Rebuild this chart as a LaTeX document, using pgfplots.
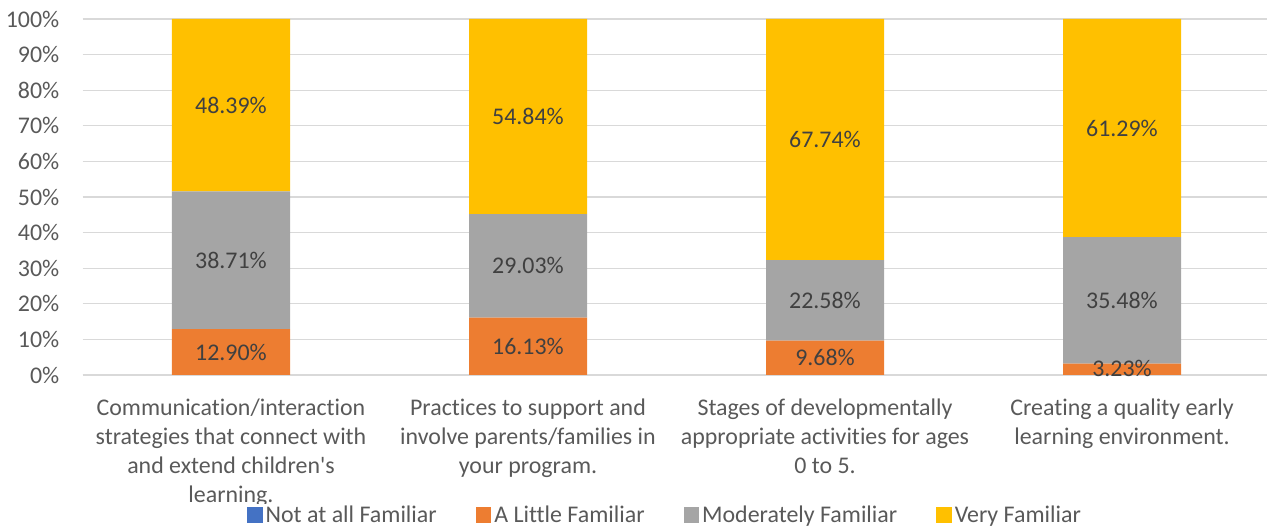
\documentclass[border=0pt]{standalone}
\usepackage{pgfplots}
\usepackage{pgfplotstable}
\pgfplotsset{compat=1.18}
\usepackage{fontspec}
\setmainfont{Carlito}[Ligatures={TeXOff,NoCommon}]

\definecolor{cBlue}{HTML}{4472C4}
\definecolor{cOrange}{HTML}{ED7D31}
\definecolor{cGray}{HTML}{A5A5A5}
\definecolor{cGold}{HTML}{FFC000}
\definecolor{txt}{HTML}{595959}
\definecolor{lbl}{HTML}{404040}
\definecolor{grd}{HTML}{D9D9D9}

% share of respondents (percent) per topic
\pgfplotstableread{
x notat little moderately very
0 0 12.90 38.71 48.39
1 0 16.13 29.03 54.84
2 0 9.68 22.58 67.74
3 0 3.23 35.48 61.29
}\famdata

% data labels, placed at the middle of each segment
\pgfplotstableread{
x y label
0 6.45 12.90
0 32.255 38.71
0 75.805 48.39
1 8.065 16.13
1 30.645 29.03
1 72.58 54.84
2 4.84 9.68
2 20.97 22.58
2 66.13 67.74
3 1.9 3.23
3 20.97 35.48
3 69.355 61.29
}\famlabels

\begin{document}
\begin{tikzpicture}
\path[use as bounding box] (0,0) rectangle (1267bp,527bp);
\pgfplotsset{
  famaxis/.style={
    scale only axis,
    width=1188bp, height=356bp,
    at={(82.5bp,152bp)}, anchor=south west,
    xmin=-0.5, xmax=3.5,
    ymin=0, ymax=100,
  }
}
\begin{axis}[
  famaxis,
  ybar stacked,
  bar width=118bp,
  axis x line*=bottom,
  axis y line*=left,
  x axis line style={draw=grd, line width=1.2bp},
  y axis line style={draw=none},
  xtick={0,1,2,3},
  xticklabels={
    {Communication/interaction\\strategies that connect with\\and extend children's\\learning.},
    {Practices to support and\\involve parents/families in\\your program.},
    {Stages of developmentally\\appropriate activities for ages\\0 to 5.},
    {Creating a quality early\\learning environment.}},
  tick style={draw=none},
  xticklabel style={align=center, anchor=north,
    font=\fontsize{24}{29.3}\selectfont, text=txt, yshift=-20bp},
  ytick={0,10,...,100},
  yticklabel={\pgfmathprintnumber{\tick}\%},
  yticklabel style={font=\fontsize{24}{28}\selectfont, text=txt,
    anchor=east, inner sep=0pt, xshift=-23bp},
  ymajorgrids,
  major grid style={draw=grd, line width=1.2bp},
  /pgf/number format/assume math mode=true,
  legend columns=4,
  legend style={at={(0.4895,-0.392)}, anchor=center, draw=none,
    font=\fontsize{24}{28}\selectfont, text=txt,
    nodes={inner sep=0pt},
    /tikz/every odd column/.append style={column sep=3bp},
    /tikz/every even column/.append style={column sep=39bp}},
  legend image code/.code={\fill[#1] (0bp,-8bp) rectangle (15.5bp,7.5bp);},
]
\addplot[fill=cBlue, draw=none] table[x=x, y=notat] {\famdata};
\addlegendentry{Not at all Familiar}
\addplot[fill=cOrange, draw=none] table[x=x, y=little] {\famdata};
\addlegendentry{A Little Familiar}
\addplot[fill=cGray, draw=none] table[x=x, y=moderately] {\famdata};
\addlegendentry{Moderately Familiar}
\addplot[fill=cGold, draw=none] table[x=x, y=very] {\famdata};
\addlegendentry{Very Familiar}
\end{axis}
\begin{axis}[
  famaxis,
  axis lines=none,
  ticks=none,
  clip=false,
]
\addplot[draw=none, mark=none, nodes near coords={\pgfplotspointmeta\%},
  point meta=explicit symbolic,
  every node near coord/.append style={anchor=center, text=lbl,
    font=\fontsize{24}{28}\selectfont}]
  table[x=x, y=y, meta=label] {\famlabels};
\end{axis}
\end{tikzpicture}
\end{document}
